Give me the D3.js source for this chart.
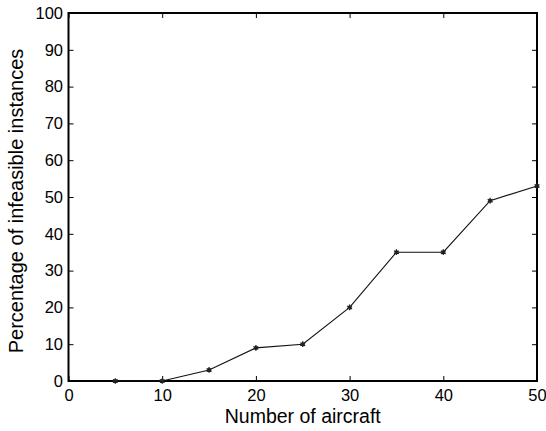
<!DOCTYPE html>
<html>
<head>
<meta charset="utf-8">
<script src="https://cdn.jsdelivr.net/npm/d3@7"></script>
<style>
body { margin: 0; background: #fff; }
text { font-family: "Liberation Sans", Arial, sans-serif; fill: #000; }
</style>
</head>
<body>
<div id="chart"></div>
<script>
const aircraft = [5, 10, 15, 20, 25, 30, 35, 40, 45, 50];
const infeasiblePct = [0, 0, 3, 9, 10, 20, 35, 35, 49, 53];
const xTicks = [0, 10, 20, 30, 40, 50];
const yTicks = [0, 10, 20, 30, 40, 50, 60, 70, 80, 90, 100];

const width = 546, height = 431;
const margin = { top: 13, right: 9, bottom: 50, left: 68.5 };

const svg = d3.select('#chart').append('svg')
	.attr('width', width)
	.attr('height', height);

const x = d3.scaleLinear().domain([0, 50]).range([margin.left, width - margin.right]);
const y = d3.scaleLinear().domain([0, 100]).range([height - margin.bottom, margin.top]);

const g = svg.append('g');

// inward ticks on all four sides
const tickLen = 5;
g.append('g')
	.attr('transform', `translate(0,${y(0)})`)
	.call(d3.axisBottom(x).tickValues(xTicks).tickSize(-tickLen).tickPadding(8.5).tickFormat(d3.format('d')))
	.call(a => a.select('.domain').remove());
g.append('g')
	.attr('transform', `translate(0,${y(100)})`)
	.call(d3.axisTop(x).tickValues(xTicks).tickSize(-tickLen).tickFormat(''))
	.call(a => a.select('.domain').remove());
g.append('g')
	.attr('transform', `translate(${x(0)},0)`)
	.call(d3.axisLeft(y).tickValues(yTicks).tickSize(-tickLen).tickPadding(5.5).tickFormat(d3.format('d')))
	.call(a => a.select('.domain').remove());
g.append('g')
	.attr('transform', `translate(${x(50)},0)`)
	.call(d3.axisRight(y).tickValues(yTicks).tickSize(-tickLen).tickFormat(''))
	.call(a => a.select('.domain').remove());

g.selectAll('.tick line').attr('stroke', '#000').attr('stroke-width', 1);
g.selectAll('.tick text').attr('font-size', 16.5).style('font-family', '"Liberation Sans", Arial, sans-serif');

// box
svg.append('rect')
	.attr('x', x(0))
	.attr('y', y(100))
	.attr('width', x(50) - x(0))
	.attr('height', y(0) - y(100))
	.attr('fill', 'none')
	.attr('stroke', '#000')
	.attr('stroke-width', 2);

const line = d3.line()
	.x((d, i) => x(aircraft[i]))
	.y(d => y(d));

svg.append('path')
	.datum(infeasiblePct)
	.attr('fill', 'none')
	.attr('stroke', '#111')
	.attr('stroke-width', 1.1)
	.attr('d', line);

svg.selectAll('.pt')
	.data(infeasiblePct)
	.enter().append('path')
	.attr('class', 'pt')
	.attr('transform', (d, i) => `translate(${x(aircraft[i])},${y(d)})`)
	.attr('d', d3.symbol(d3.symbolAsterisk, 22))
	.attr('stroke', '#222')
	.attr('stroke-width', 1.3)
	.attr('fill', 'none');

svg.selectAll('.dot')
	.data(infeasiblePct)
	.enter().append('circle')
	.attr('cx', (d, i) => x(aircraft[i]))
	.attr('cy', d => y(d))
	.attr('r', 2)
	.attr('fill', '#222');

svg.append('text')
	.attr('x', (x(0) + x(50)) / 2)
	.attr('y', 423)
	.attr('text-anchor', 'middle')
	.attr('font-size', 19.5)
	.text('Number of aircraft');

svg.append('text')
	.attr('transform', `translate(23,201) rotate(-90)`)
	.attr('text-anchor', 'middle')
	.attr('font-size', 20)
	.text('Percentage of infeasible instances');
</script>
</body>
</html>
